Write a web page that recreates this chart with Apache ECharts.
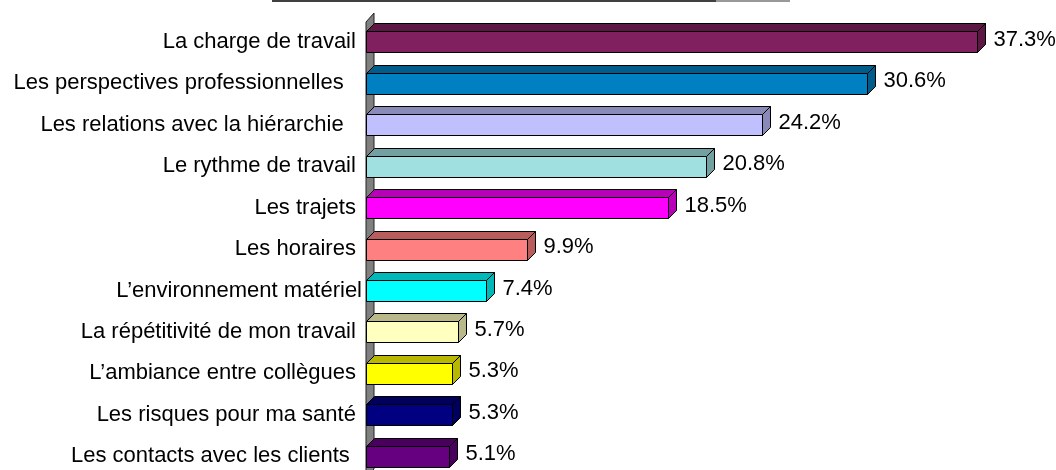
<!DOCTYPE html>
<html>
<head>
<meta charset="utf-8">
<title>Facteurs de stress</title>
<script src="https://cdn.jsdelivr.net/npm/echarts@6/dist/echarts.min.js"></script>
<style>
  html, body { margin: 0; padding: 0; background: #fff; }
  #chart { width: 1056px; height: 470px; }
</style>
</head>
<body>
<div id="chart"></div>
<script>
// categories, top to bottom (trailing spaces keep the original label alignment)
var categories = [
  'La charge de travail ',
  'Les perspectives professionnelles   ',
  'Les relations avec la hiérarchie   ',
  'Le rythme de travail ',
  'Les trajets ',
  'Les horaires ',
  'L\u2019environnement matériel',
  'La répétitivité de mon travail ',
  'L\u2019ambiance entre collègues ',
  'Les risques pour ma santé ',
  'Les contacts avec les clients  '
]
var values = [37.3, 30.6, 24.2, 20.8, 18.5, 9.9, 7.4, 5.7, 5.3, 5.3, 5.1]
var colors = [
  '#80205f', '#0080c0', '#c0c0ff', '#a0e0e0', '#ff00ff', '#ff8080',
  '#00ffff', '#ffffc0', '#ffff00', '#000080', '#660080'
]

var FONT = '"Liberation Sans", Arial, sans-serif'
var DEPTH = 8 // 3d offset of the bars
var BAR_H = 21

function shade(hex, f) {
  var n = parseInt(hex.slice(1), 16)
  var r = Math.round(((n >> 16) & 255) * f)
  var g = Math.round(((n >> 8) & 255) * f)
  var b = Math.round((n & 255) * f)
  return 'rgb(' + r + ',' + g + ',' + b + ')'
}

var chart = echarts.init(document.getElementById('chart'), null, { renderer: 'canvas' })

function renderWall(params, api) {
  var cs = params.coordSys
  var x0 = cs.x + 1
  var top = cs.y + 1
  var bottom = cs.y + cs.height
  return {
    type: 'polygon',
    shape: {
      points: [
        [x0, top], [x0 + DEPTH, top - DEPTH - 1],
        [x0 + DEPTH, bottom - DEPTH], [x0, bottom]
      ]
    },
    style: { fill: '#808080', stroke: '#222', lineWidth: 1 },
    z2: 1
  }
}

function renderBar(params, api) {
  var idx = api.value(1)
  var val = api.value(0)
  var end = api.coord([val, idx])
  var start = api.coord([0, idx])
  var x0 = Math.round(start[0]) + 1.5
  var x1 = Math.round(end[0]) + 0.5
  var yc = end[1]
  var yt = Math.round(yc - BAR_H / 2) + 0.5
  var yb = yt + BAR_H
  var c = colors[params.dataIndex]
  var dark = shade(c, 0.72)
  return {
    type: 'group',
    children: [
      {
        type: 'polygon',
        shape: { points: [[x0, yt], [x0 + DEPTH, yt - DEPTH], [x1 + DEPTH, yt - DEPTH], [x1, yt]] },
        style: { fill: dark, stroke: '#000', lineWidth: 1 }
      },
      {
        type: 'polygon',
        shape: { points: [[x1, yt], [x1 + DEPTH, yt - DEPTH], [x1 + DEPTH, yb - DEPTH], [x1, yb]] },
        style: { fill: dark, stroke: '#000', lineWidth: 1 }
      },
      {
        type: 'rect',
        shape: { x: x0, y: yt, width: x1 - x0, height: BAR_H },
        style: { fill: c, stroke: '#000', lineWidth: 1 }
      },
      {
        type: 'text',
        x: x1 + DEPTH + 8,
        y: yc - 2,
        style: {
          text: val.toFixed(1) + '%',
          font: '22px ' + FONT,
          fill: '#000',
          verticalAlign: 'middle',
          align: 'left'
        }
      }
    ]
  }
}

chart.setOption({
  animation: false,
  backgroundColor: '#fff',
  grid: {
    left: 365,
    top: 21,
    width: 656,
    height: 456,
    containLabel: false,
    outerBoundsMode: 'none'
  },
  xAxis: {
    type: 'value',
    min: 0,
    max: 40,
    show: false
  },
  yAxis: {
    type: 'category',
    data: categories,
    inverse: true,
    axisLine: { show: false },
    axisTick: { show: false },
    splitLine: { show: false },
    axisLabel: {
      margin: 3,
      color: '#000',
      fontSize: 22,
      fontFamily: FONT
    }
  },
  graphic: [
    {
      type: 'line',
      shape: { x1: 272, y1: 1, x2: 716, y2: 1 },
      style: { stroke: '#404040', lineWidth: 2 }
    },
    {
      type: 'line',
      shape: { x1: 716, y1: 1, x2: 790, y2: 1 },
      style: { stroke: '#999', lineWidth: 2 }
    }
  ],
  series: [
    {
      type: 'custom',
      name: 'wall',
      renderItem: renderWall,
      data: [[0, 0]],
      encode: { x: 0, y: 1 },
      silent: true,
      z: 1
    },
    {
      type: 'custom',
      name: 'valeurs',
      renderItem: renderBar,
      data: values.map(function(v, i) { return [v, i] }),
      encode: { x: 0, y: 1 },
      z: 2
    }
  ]
})
</script>
</body>
</html>
